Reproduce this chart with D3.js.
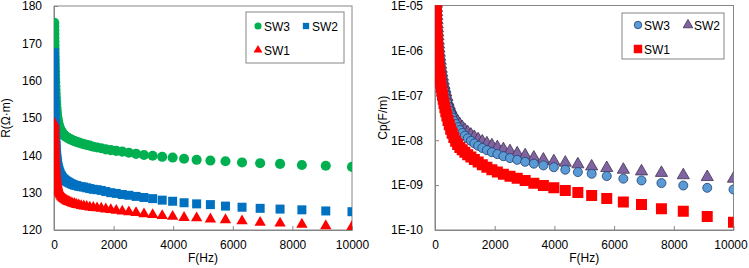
<!DOCTYPE html>
<html>
<head>
<meta charset="utf-8">
<script src="https://cdn.jsdelivr.net/npm/d3@7"></script>
<style>
  body { margin: 0; background: #fff; }
  svg text { font-family: "Liberation Sans", Arial, sans-serif; fill: #000; }
</style>
</head>
<body>
<svg id="chart" width="749" height="268"></svg>
<script>
// frequency sweep (Hz), shared by every series
var freq = [10, 10.96, 12.02, 13.18, 14.45, 15.85, 17.38, 19.05, 20.89, 22.91,
  25.12, 27.54, 30.2, 33.11, 36.31, 39.81, 43.65, 47.86, 52.48, 57.54,
  63.1, 69.18, 75.86, 83.18, 91.2, 100, 109.6, 120.2, 131.8, 144.5,
  158.5, 173.8, 190.5, 208.9, 229.1, 251.2, 275.4, 302, 331.1, 363.1,
  398.1, 436.5, 478.6, 524.8, 575.4, 631, 691.8, 758.6, 831.8, 912,
  1000, 1096, 1202, 1318, 1445, 1585, 1738, 1905, 2089, 2291,
  2512, 2754, 3020, 3311, 3631, 3981, 4365, 4786, 5248, 5754,
  6310, 6918, 7586, 8318, 9120, 10000];

// resistivity R (ohm.m)
var rSW3 = [175.5, 174.5, 173.5, 172.5, 171.5, 170.5, 169.5, 168.5, 167.5, 166.5,
  165.5, 164.5, 163.5, 162.5, 161.5, 160.5, 159.5, 158.5, 157.5, 156.5,
  155.5, 154.5, 153.6, 152.7, 151.9, 151.1, 150.4, 149.8, 149.2, 148.7,
  148.2, 147.8, 147.4, 147.0, 146.7, 146.4, 146.1, 145.8, 145.5, 145.2,
  145.0, 144.8, 144.6, 144.4, 144.2, 144.0, 143.8, 143.6, 143.4, 143.2,
  143.0, 142.8, 142.6, 142.3, 142.1, 141.9, 141.6, 141.4, 141.2, 141.0,
  140.7, 140.4, 140.1, 139.9, 139.6, 139.4, 139.1, 138.8, 138.6, 138.4,
  138.1, 137.9, 137.7, 137.4, 137.2, 136.9];
var rSW2 = [167.5, 166.3, 165.1, 163.9, 162.7, 161.5, 160.3, 159.1, 157.9, 156.7,
  155.5, 154.3, 153.1, 151.9, 150.7, 149.5, 148.3, 147.1, 145.9, 144.7,
  143.6, 142.6, 141.6, 140.7, 139.9, 139.1, 138.4, 137.8, 137.2, 136.7,
  136.2, 135.8, 135.4, 135.0, 134.7, 134.4, 134.1, 133.8, 133.6, 133.4,
  133.2, 133.0, 132.8, 132.6, 132.4, 132.2, 132.0, 131.9, 131.7, 131.6,
  131.5, 131.3, 131.1, 130.9, 130.8, 130.6, 130.3, 130.0, 129.8, 129.5,
  129.3, 129.0, 128.7, 128.4, 128.0, 127.7, 127.3, 127.0, 126.8, 126.4,
  126.1, 125.8, 125.6, 125.4, 125.1, 124.9];
var rSW1 = [148.5, 147.8, 147.1, 146.4, 145.7, 145.0, 144.3, 143.6, 142.9, 142.2,
  141.5, 140.8, 140.1, 139.4, 138.7, 138.0, 137.3, 136.6, 136.0, 135.4,
  134.8, 134.3, 133.8, 133.3, 132.8, 132.4, 132.0, 131.6, 131.2, 130.8,
  130.5, 130.2, 129.9, 129.6, 129.3, 129.0, 128.8, 128.6, 128.4, 128.2,
  128.0, 127.8, 127.6, 127.5, 127.3, 127.1, 127.0, 126.8, 126.7, 126.5,
  126.4, 126.3, 126.1, 126.0, 125.9, 125.8, 125.6, 125.4, 125.2, 125.0,
  124.8, 124.6, 124.3, 124.1, 123.8, 123.6, 123.3, 123.2, 122.9, 122.7,
  122.4, 122.0, 121.8, 121.5, 121.1, 120.9];

// capacitance Cp (F/m)
var cpSW3 = [3e-4, 2.45e-4, 2e-4, 1.6e-4, 1.3e-4, 1.07e-4, 8.6e-5, 7e-5, 5.6e-5, 4.5e-5,
  3.7e-5, 3e-5, 2.4e-5, 1.95e-5, 1.58e-5, 1.28e-5, 1.04e-5, 8.5e-6, 6.8e-6, 5.5e-6,
  4.5e-6, 3.6e-6, 2.9e-6, 2.4e-6, 1.95e-6, 1.58e-6, 1.28e-6, 1.04e-6, 8.5e-7, 6.9e-7,
  5.6e-7, 4.5e-7, 3.7e-7, 3.0e-7, 2.45e-7, 2.0e-7, 1.6e-7, 1.3e-7, 1.07e-7, 8.8e-8,
  7.1e-8, 5.6e-8, 4.6e-8, 3.8e-8, 3.2e-8, 2.7e-8, 2.3e-8, 1.95e-8, 1.68e-8, 1.45e-8,
  1.26e-8, 1.1e-8, 9.7e-9, 8.5e-9, 7.5e-9, 6.7e-9, 6.0e-9, 5.4e-9, 4.9e-9, 4.4e-9,
  4.0e-9, 3.65e-9, 3.3e-9, 3.0e-9, 2.75e-9, 2.5e-9, 2.2e-9, 1.95e-9, 1.79e-9, 1.59e-9,
  1.39e-9, 1.27e-9, 1.11e-9, 9.8e-10, 8.7e-10, 8.0e-10];
var cpSW2 = [4e-4, 3.2e-4, 2.6e-4, 2.1e-4, 1.7e-4, 1.4e-4, 1.1e-4, 9e-5, 7.3e-5, 5.9e-5,
  4.8e-5, 3.9e-5, 3.1e-5, 2.5e-5, 2.05e-5, 1.65e-5, 1.35e-5, 1.1e-5, 8.8e-6, 7.1e-6,
  5.8e-6, 4.7e-6, 3.8e-6, 3.1e-6, 2.5e-6, 2.05e-6, 1.65e-6, 1.35e-6, 1.1e-6, 8.9e-7,
  7.2e-7, 5.9e-7, 4.8e-7, 3.9e-7, 3.2e-7, 2.6e-7, 2.1e-7, 1.7e-7, 1.4e-7, 1.15e-7,
  9.2e-8, 7.2e-8, 5.9e-8, 4.9e-8, 4.1e-8, 3.5e-8, 3.0e-8, 2.6e-8, 2.25e-8, 1.95e-8,
  1.7e-8, 1.5e-8, 1.33e-8, 1.18e-8, 1.05e-8, 9.4e-9, 8.5e-9, 7.7e-9, 7.0e-9, 6.3e-9,
  5.7e-9, 5.1e-9, 4.6e-9, 4.1e-9, 3.7e-9, 3.4e-9, 3.16e-9, 2.9e-9, 2.6e-9, 2.4e-9,
  2.2e-9, 2.02e-9, 1.87e-9, 1.66e-9, 1.51e-9, 1.39e-9];
var cpSW1 = [1.5e-4, 1.2e-4, 9.9e-5, 8e-5, 6.5e-5, 5.3e-5, 4.3e-5, 3.5e-5, 2.8e-5, 2.3e-5,
  1.85e-5, 1.5e-5, 1.22e-5, 9.9e-6, 8e-6, 6.5e-6, 5.3e-6, 4.3e-6, 3.5e-6, 2.8e-6,
  2.3e-6, 1.85e-6, 1.5e-6, 1.22e-6, 9.9e-7, 8e-7, 6.5e-7, 5.3e-7, 4.3e-7, 3.5e-7,
  2.8e-7, 2.3e-7, 1.85e-7, 1.5e-7, 1.23e-7, 1.0e-7, 8.2e-8, 6.6e-8, 5.3e-8, 4.3e-8,
  3.45e-8, 2.75e-8, 2.2e-8, 1.75e-8, 1.42e-8, 1.15e-8, 9.5e-9, 8.0e-9, 6.9e-9, 6.1e-9,
  5.4e-9, 4.75e-9, 4.2e-9, 3.7e-9, 3.25e-9, 2.85e-9, 2.5e-9, 2.2e-9, 1.95e-9, 1.75e-9,
  1.58e-9, 1.42e-9, 1.26e-9, 1.1e-9, 9.8e-10, 8.7e-10, 7.6e-10, 6.8e-10, 5.9e-10, 5.0e-10,
  4.2e-10, 3.7e-10, 2.97e-10, 2.6e-10, 2.0e-10, 1.49e-10];

var xTicks = [0, 2000, 4000, 6000, 8000, 10000];
var rTicks = [120, 130, 140, 150, 160, 170, 180];
var cpTicks = [1e-10, 1e-9, 1e-8, 1e-7, 1e-6, 1e-5];
var cpTickLabels = ["1E-10", "1E-09", "1E-08", "1E-07", "1E-06", "1E-05"];

var svg = d3.select("#chart");
var axisColor = "#868686";

function zip(ys) {
    return freq.map(function(f, i) { return { f: f, v: ys[i] }; });
}

// draws one panel: box, ticks, labels, series, legend
function drawPanel(opt) {
    var x = d3.scaleLinear().domain([0, 10000]).range([opt.left, opt.right]);
    var y = opt.y;

    var g = svg.append("g");

    g.append("clipPath").attr("id", opt.id + "-clip")
        .append("rect")
        .attr("x", opt.left).attr("y", opt.top)
        .attr("width", opt.right - opt.left).attr("height", opt.bottom - opt.top);

    // plot border
    g.append("rect")
        .attr("x", opt.left).attr("y", opt.top)
        .attr("width", opt.right - opt.left).attr("height", opt.bottom - opt.top)
        .attr("fill", "none").attr("stroke", axisColor).attr("stroke-width", 1);

    // x axis (ticks point inward)
    var xAxis = d3.axisBottom(x).tickValues(xTicks).tickFormat(d3.format("d"))
        .tickSizeInner(-4).tickSizeOuter(0).tickPadding(10);
    var gx = g.append("g").attr("transform", "translate(0," + opt.bottom + ")").call(xAxis);
    gx.select(".domain").attr("stroke", axisColor);
    gx.selectAll(".tick line").attr("stroke", axisColor);
    gx.selectAll(".tick text").attr("font-size", 12).attr("font-family", "Liberation Sans, Arial, sans-serif").attr("fill", "#000");
    // keep the last label inside the window
    if (opt.lastLabelShift) {
        gx.selectAll(".tick text").filter(function(d) { return d == 10000; }).attr("dx", opt.lastLabelShift);
    }

    var yAxis = d3.axisLeft(y).tickValues(opt.yTicks).tickSizeInner(-4).tickSizeOuter(0).tickPadding(12);
    if (opt.yFormat) yAxis.tickFormat(opt.yFormat);
    var gy = g.append("g").attr("transform", "translate(" + opt.left + ",0)").call(yAxis);
    gy.select(".domain").attr("stroke", axisColor);
    gy.selectAll(".tick line").attr("stroke", axisColor);
    gy.selectAll(".tick text").attr("font-size", 12).attr("font-family", "Liberation Sans, Arial, sans-serif").attr("fill", "#000");

    // axis titles
    g.append("text")
        .attr("x", (opt.left + opt.right) / 2).attr("y", 262)
        .attr("text-anchor", "middle").attr("font-size", 12)
        .text("F(Hz)");
    g.append("text")
        .attr("transform", "translate(" + opt.ytitleX + "," + ((opt.top + opt.bottom) / 2) + ") rotate(-90)")
        .attr("text-anchor", "middle").attr("font-size", 12)
        .text(opt.ytitle);

    var plot = g.append("g").attr("clip-path", "url(#" + opt.id + "-clip)");

    opt.series.forEach(function(s) {
        var pts = zip(s.values).filter(function(d) { return d.v != null; });
        var sym = d3.symbol().type(s.shape).size(s.size);
        plot.append("g").selectAll("path")
            .data(pts)
            .enter()
            .append("path")
            .attr("d", sym)
            .attr("transform", function(d) { return "translate(" + x(d.f) + "," + y(d.v) + ")"; })
            .attr("fill", s.fill)
            .attr("stroke", s.stroke || "none")
            .attr("stroke-width", s.stroke ? 0.8 : 0);
    });

    // legend
    var L = opt.legend;
    g.append("rect")
        .attr("x", L.x).attr("y", L.y).attr("width", L.w).attr("height", L.h)
        .attr("fill", "#fff").attr("stroke", axisColor);
    L.items.forEach(function(it) {
        var s = opt.series.find(function(d) { return d.name == it.name; });
        g.append("path")
            .attr("d", d3.symbol().type(s.shape).size(it.size)())
            .attr("transform", "translate(" + it.mx + "," + it.my + ")")
            .attr("fill", s.fill)
            .attr("stroke", s.stroke || "none")
            .attr("stroke-width", s.stroke ? 0.8 : 0);
        g.append("text")
            .attr("x", it.mx + 6).attr("y", it.my + 4.5)
            .attr("font-size", 12)
            .text(it.name);
    });
}

// left: resistivity
drawPanel({
    id: "r",
    left: 54, right: 352, top: 6, bottom: 230,
    y: d3.scaleLinear().domain([120, 180]).range([230, 6]),
    yTicks: rTicks,
    ytitle: "R(\u03A9\u00B7m)", ytitleX: 10,
    series: [
        { name: "SW3", values: rSW3, shape: d3.symbolCircle, size: 80, fill: "#00B050" },
        { name: "SW2", values: rSW2, shape: d3.symbolSquare, size: 81, fill: "#0070C0" },
        { name: "SW1", values: rSW1, shape: d3.symbolTriangle, size: 56, fill: "#FF0000" }
    ],
    legend: { x: 246, y: 12, w: 98, h: 51,
        items: [
            { name: "SW3", mx: 258, my: 26, size: 40 },
            { name: "SW2", mx: 306, my: 26, size: 40 },
            { name: "SW1", mx: 258, my: 50, size: 34 }
        ] }
});

// right: capacitance (log)
drawPanel({
    id: "cp",
    left: 435, right: 733.5, top: 5.5, bottom: 230,
    y: d3.scaleLog().domain([1e-10, 1e-5]).range([230, 5.5]),
    yTicks: cpTicks,
    yFormat: function(d, i) { return cpTickLabels[i]; },
    ytitle: "Cp(F/m)", ytitleX: 387,
    lastLabelShift: -3,
    series: [
        { name: "SW2", values: cpSW2, shape: d3.symbolTriangle, size: 64, fill: "#8064A2", stroke: "#3F3151" },
        { name: "SW3", values: cpSW3, shape: d3.symbolCircle, size: 64, fill: "#5B9BD5", stroke: "#1F3F6E" },
        { name: "SW1", values: cpSW1, shape: d3.symbolSquare, size: 121, fill: "#FF0000" }
    ],
    legend: { x: 622, y: 13, w: 102, h: 46,
        items: [
            { name: "SW3", mx: 638, my: 25, size: 44 },
            { name: "SW2", mx: 688, my: 25, size: 40 },
            { name: "SW1", mx: 638, my: 49, size: 72 }
        ] }
});
</script>
</body>
</html>
